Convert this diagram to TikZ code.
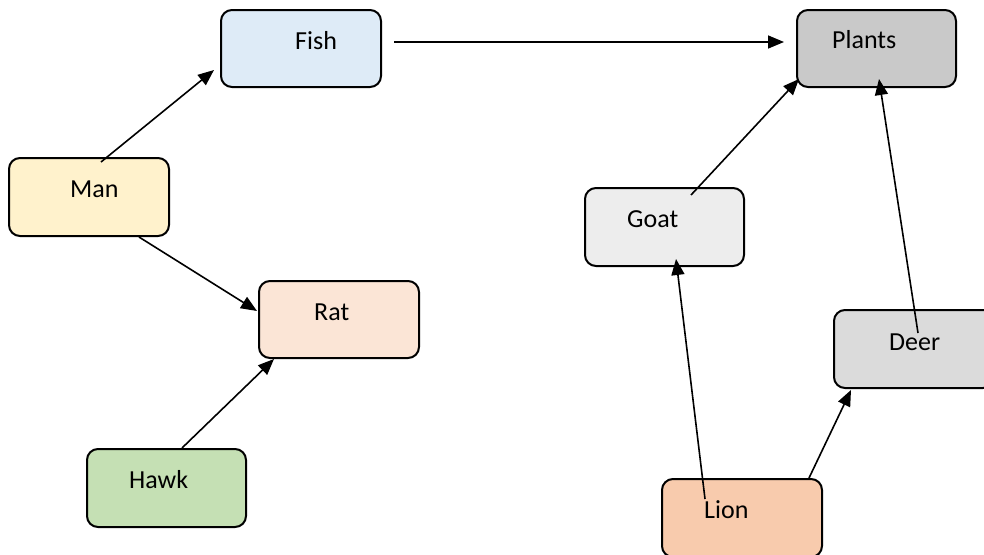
\documentclass[tikz,border=0pt]{standalone}
\usepackage{fontspec}
\setmainfont{Carlito}
\usetikzlibrary{arrows.meta}
\definecolor{fishfill}{HTML}{DEEBF7}
\definecolor{plantfill}{HTML}{C9C9C9}
\definecolor{manfill}{HTML}{FFF2CC}
\definecolor{ratfill}{HTML}{FBE5D6}
\definecolor{hawkfill}{HTML}{C5E0B4}
\definecolor{goatfill}{HTML}{EDEDED}
\definecolor{deerfill}{HTML}{DBDBDB}
\definecolor{lionfill}{HTML}{F8CBAD}
\tikzset{
  box/.style={draw=black, line width=2pt, rounded corners=11pt,
    minimum width=160pt, minimum height=77pt, inner sep=0pt},
  lbl/.style={anchor=base west, inner sep=0pt, font=\fontsize{26}{30}\selectfont},
  arr/.style={line width=1.6pt, -{Triangle[length=16pt,width=13pt]}}
}
\begin{document}
\begin{tikzpicture}[x=1pt,y=-1pt]
\useasboundingbox (0,0) rectangle (984,554);

% boxes
\node[box, fill=fishfill]  (fish)   at (301,48.5)  {};
\node[box, fill=plantfill, minimum width=159pt] (plants) at (876.5,48.5) {};
\node[box, fill=manfill, minimum height=78pt]   (man)    at (89,197)    {};
\node[box, fill=ratfill]   (rat)    at (339,319.5) {};
\node[box, fill=hawkfill, minimum width=159pt, minimum height=78pt] (hawk) at (166.5,488) {};
\node[box, fill=goatfill, minimum width=159pt, minimum height=78pt] (goat) at (664.5,227) {};
\node[box, fill=deerfill, minimum height=78pt]  (deer)   at (914,349)   {};
\node[box, fill=lionfill, minimum height=78pt]  (lion)   at (742,518)   {};

% connectors
\draw[arr] ([shift={(93,5)}]man.north west) -- ([shift={(-6,-18)}]fish.south west);
\draw[arr] ([shift={(12,-6.5)}]fish.east) -- ([shift={(-12,-6.5)}]plants.west);
\draw[arr] ([shift={(131,0)}]man.south west) -- ([shift={(-1,-8.5)}]rat.west);
\draw[arr] ([shift={(96,0)}]hawk.north west) -- ([shift={(16,0)}]rat.south west);
\draw[arr] ([shift={(107,8)}]goat.north west) -- ([shift={(3,-9)}]plants.south west);
\draw[arr] ([shift={(85,24)}]deer.north west) -- ([shift={(83,-9)}]plants.south west);
\draw[arr] ([shift={(44,21)}]lion.north west) -- ([shift={(92,-8)}]goat.south west);
\draw[arr] ([shift={(148,0)}]lion.north west) -- ([shift={(18,1)}]deer.south west);

% labels
\node[lbl] (tfish)   at (295,49)  {Fish};
\node[lbl] (tplants) at (832,48)  {Plants};
\node[lbl] (tman)    at (70,197)  {Man};
\node[lbl] (trat)    at (314,320) {Rat};
\node[lbl] (thawk)   at (129,488) {Hawk};
\node[lbl] (tgoat)   at (627,227) {Goat};
\node[lbl] (tdeer)   at (889,350) {Deer};
\node[lbl] (tlion)   at (704,518) {Lion};
\end{tikzpicture}
\end{document}
